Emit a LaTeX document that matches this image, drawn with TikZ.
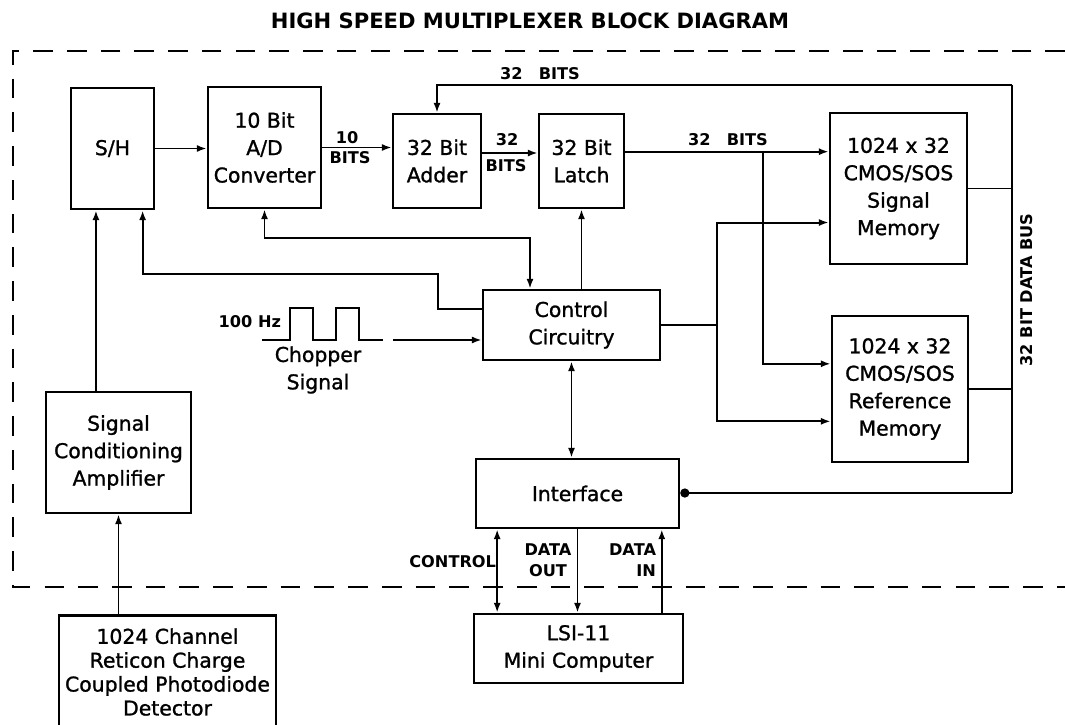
\documentclass[tikz,border=0pt]{standalone}
\usepackage{fontspec}
\setmainfont{DejaVu Sans}
\newfontface{\blkface}{DejaVu Sans}[FakeBold=1.2]
\usetikzlibrary{arrows.meta}

\newcommand{\blkfont}{\blkface\fontsize{14.5}{19.5}\selectfont}
\newcommand{\lblfont}{\bfseries\fontsize{11.5}{15}\selectfont}
\tikzset{
  arr/.style={-{Latex[length=7pt,width=5pt]}},
  dblarr/.style={{Latex[length=7pt,width=5pt]}-{Latex[length=7pt,width=5pt]}},
  busdot/.style={-{Circle[length=6.5pt]}},
}

\begin{document}
\begin{tikzpicture}[x=2.5mm, y=-2.5mm, line width=1.4pt]
 \useasboundingbox (0,0) rectangle (106.5,72.4);
 \node[font=\bfseries\fontsize{15}{18}\selectfont] (title) at (53,2.1) {HIGH SPEED MULTIPLEXER BLOCK DIAGRAM};
 % system boundary
 \draw[line width=1.4pt, dash pattern=on 14pt off 10pt] (106.5,5.1) -- (1.3,5.1) -- (1.3,58.7) -- (106.5,58.7);
 \begin{scope}[every node/.style={draw, line width=1.8pt, inner sep=0pt, align=center, font=\blkfont}]
  \node[minimum width=2.075cm, minimum height=3.025cm] (sh) at (11.25,14.85) {S/H};
  \node[minimum width=2.825cm, minimum height=3.025cm] (adc) at (26.45,14.75) {10 Bit\\A/D\\Converter};
  \node[minimum width=2.2cm, minimum height=2.35cm] (adder) at (43.7,16.1) {32 Bit\\Adder};
  \node[minimum width=2.125cm, minimum height=2.35cm] (latch) at (58.15,16.1) {32 Bit\\Latch};
  \node[minimum width=3.425cm, minimum height=3.775cm] (sigmem) at (89.85,18.85) {1024 x 32\\CMOS/SOS\\Signal\\Memory};
  \node[minimum width=3.4cm, minimum height=3.65cm] (refmem) at (90,38.9) {1024 x 32\\CMOS/SOS\\Reference\\Memory};
  \node[minimum width=4.425cm, minimum height=1.75cm] (ctrl) at (57.15,32.5) {Control\\Circuitry};
  \node[minimum width=5.075cm, minimum height=1.725cm] (iface) at (57.75,49.35) {Interface};
  \node[minimum width=5.225cm, minimum height=1.725cm] (lsi) at (57.85,64.85) {LSI-11\\Mini Computer};
  \node[minimum width=3.625cm, minimum height=3.025cm] (amp) at (11.85,45.25) {Signal\\Conditioning\\Amplifier};
  \node[minimum width=5.425cm, minimum height=2.825cm, font=\blkface\fontsize{14.5}{17}\selectfont] (det) at (16.75,67.2) {1024 Channel\\Reticon Charge\\Coupled Photodiode\\Detector};
 \end{scope}
 \begin{scope}[every node/.style={inner sep=0pt, font=\lblfont}]
  \node (n10) at (34.7,13.8) {10};
  \node (b10) at (35,15.8) {BITS};
  \node (n32) at (50.7,14) {32};
  \node (b32) at (50.6,16.6) {BITS};
  \node (lbits) at (72.8,14) {32\hspace{1em}BITS};
  \node (fbits) at (54,7.4) {32\hspace{1em}BITS};
  \node[anchor=east] (hz) at (28.2,32.2) {100 Hz};
  \node[anchor=east] (lctl) at (49.7,56.2) {CONTROL};
  \node[align=center] (ldout) at (54.8,56) {DATA\\OUT};
  \node[align=right, anchor=east] (ldin) at (65.7,56) {DATA\\IN};
  \node[rotate=90] (lbus) at (102.7,29) {32 BIT DATA BUS};
 \end{scope}
 \node[align=center, font=\blkfont] (chopper) at (31.8,37) {Chopper\\Signal};
 % chopper waveform
 \draw (26.2,34) -- (29,34) -- (29,30.8) -- (31.3,30.8) -- (31.3,34) -- (33.6,34)
   -- (33.6,30.8) -- (35.9,30.8) -- (35.9,34) -- (38.3,34);
 \coordinate (chop) at (39.3,34);
 \coordinate (tap) at (76.3,15.2);
 \coordinate (jct) at (71.7,32.5);
 \coordinate (bustop) at (101.2,8.5);
 \coordinate (busbot) at (101.2,49.3);
 \coordinate (k1) at (53,23.8);
 \coordinate (k2) at (43.8,27.4);
 % data path
 \path [arr] (sh.east) edge (sh.east -| adc.west);
 \path [arr] (adc.east) edge (adc.east -| adder.west);
 \path [arr] (adder.10) edge (adder.10 -| latch.west);
 \path [arr] (latch.12) edge (latch.12 -| sigmem.west);
 \draw[arr] (tap) |- (refmem.160);
 \draw[arr] (bustop) -| (adder.north);
 \draw (bustop) -- (busbot);
 \draw[busdot] (busbot) -- (busbot -| iface.east);
 \path [-] (sigmem.east) edge (sigmem.east -| bustop);
 \path [-] (refmem.east) edge (refmem.east -| bustop);
 \path [arr] (amp.north -| sh.255) edge (sh.255);
 \path [arr] (det.north -| amp.south) edge (amp.south);
 % control lines
 \draw (ctrl.east) -- (jct);
 \draw[arr] (jct) |- (sigmem.206);
 \draw[arr] (jct) |- (refmem.205);
 \draw[dblarr] (adc.south) |- (k1) -- (k1 |- ctrl.north);
 \draw[arr] (ctrl.170) -| (k2) -| (sh.296);
 \path [arr] (ctrl.north -| latch.south) edge (latch.south);
 \path [arr] (chop) edge (chop -| ctrl.west);
 \path [dblarr] (ctrl.south) edge (ctrl.south |- iface.north);
 \path [dblarr] (iface.204) edge (iface.204 |- lsi.north);
 \path [arr] (iface.south) edge (iface.south |- lsi.north);
 \path [arr] (iface.337 |- lsi.north) edge (iface.337);
\end{tikzpicture}
\end{document}
